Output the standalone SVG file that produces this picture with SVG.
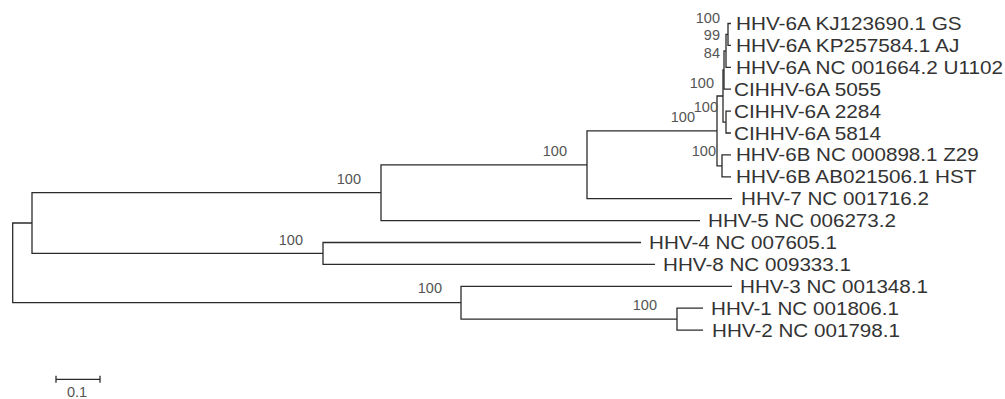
<svg xmlns="http://www.w3.org/2000/svg" width="1005" height="399" viewBox="0 0 1005 399">
<style>
.br{fill:none;stroke:#2b2b2b;stroke-width:1.3}
.tip{font-family:"Liberation Sans",Arial,sans-serif;font-size:18.5px;fill:#333}
.bs{font-family:"Liberation Sans",Arial,sans-serif;font-size:14.5px;fill:#555;text-anchor:end}
</style>
<rect width="1005" height="399" fill="#fff"/>
<g id="connectors">
<path class="br" d="M32,223 H12.7 V302.7 H461"/>
<path class="br" d="M381,192.6 H32 V253.45 H323"/>
<path class="br" d="M587,164.8 H381 V220.6 H700"/>
<path class="br" d="M717,130.9 H587 V198.7 H732"/>
<path class="br" d="M723,96 H717 V165.85 H722"/>
<path class="br" d="M731,154.9 H722 V176.8 H731"/>
<path class="br" d="M724,70 H723 V122.05 H726"/>
<path class="br" d="M726,50.9 H724 V89.2 H731"/>
<path class="br" d="M728,34.45 H726 V67.3 H731"/>
<path class="br" d="M731,23.5 H728 V45.4 H731"/>
<path class="br" d="M731,111.1 H726 V133 H731"/>
<path class="br" d="M641,242.5 H323 V264.4 H655"/>
<path class="br" d="M732,286.3 H461 V319.15 H677"/>
<path class="br" d="M703,308.2 H677 V330.1 H703"/>
</g>
<g id="tips">
<g id="t-kj"><text class="tip" x="736" y="30" textLength="225.6" lengthAdjust="spacingAndGlyphs">HHV-6A KJ123690.1 GS</text></g>
<g id="t-kp"><text class="tip" x="736" y="51.9" textLength="223.3" lengthAdjust="spacingAndGlyphs">HHV-6A KP257584.1 AJ</text></g>
<g id="t-u1102"><text class="tip" x="736" y="73.8" textLength="267" lengthAdjust="spacingAndGlyphs">HHV-6A NC 001664.2 U1102</text></g>
<g id="t-5055"><text class="tip" x="734" y="95.7" textLength="147" lengthAdjust="spacingAndGlyphs">CIHHV-6A 5055</text></g>
<g id="t-2284"><text class="tip" x="734" y="117.6" textLength="147" lengthAdjust="spacingAndGlyphs">CIHHV-6A 2284</text></g>
<g id="t-5814"><text class="tip" x="734" y="139.5" textLength="147" lengthAdjust="spacingAndGlyphs">CIHHV-6A 5814</text></g>
<g id="t-z29"><text class="tip" x="736" y="161.4" textLength="242.7" lengthAdjust="spacingAndGlyphs">HHV-6B NC 000898.1 Z29</text></g>
<g id="t-hst"><text class="tip" x="736" y="183.3" textLength="240.4" lengthAdjust="spacingAndGlyphs">HHV-6B AB021506.1 HST</text></g>
<g id="t-hhv7"><text class="tip" x="741" y="205.2" textLength="188" lengthAdjust="spacingAndGlyphs">HHV-7 NC 001716.2</text></g>
<g id="t-hhv5"><text class="tip" x="708" y="227.1" textLength="188" lengthAdjust="spacingAndGlyphs">HHV-5 NC 006273.2</text></g>
<g id="t-hhv4"><text class="tip" x="649" y="249" textLength="188" lengthAdjust="spacingAndGlyphs">HHV-4 NC 007605.1</text></g>
<g id="t-hhv8"><text class="tip" x="663" y="270.9" textLength="188" lengthAdjust="spacingAndGlyphs">HHV-8 NC 009333.1</text></g>
<g id="t-hhv3"><text class="tip" x="740" y="292.8" textLength="188" lengthAdjust="spacingAndGlyphs">HHV-3 NC 001348.1</text></g>
<g id="t-hhv1"><text class="tip" x="711" y="314.7" textLength="188" lengthAdjust="spacingAndGlyphs">HHV-1 NC 001806.1</text></g>
<g id="t-hhv2"><text class="tip" x="712" y="336.6" textLength="188" lengthAdjust="spacingAndGlyphs">HHV-2 NC 001798.1</text></g>
</g>
<g id="bootstrap">
<text class="bs" x="720" y="23">100</text>
<text class="bs" x="720" y="40">99</text>
<text class="bs" x="720" y="58">84</text>
<text class="bs" x="714" y="88">100</text>
<text class="bs" x="718" y="112">100</text>
<text class="bs" x="695" y="122">100</text>
<text class="bs" x="716" y="156">100</text>
<text class="bs" x="567" y="156">100</text>
<text class="bs" x="361" y="184">100</text>
<text class="bs" x="303" y="245">100</text>
<text class="bs" x="442" y="293">100</text>
<text class="bs" x="657" y="310">100</text>
</g>
<g id="scale">
<path class="br" d="M56,375.8 V382.8 M56,379.3 H100 M100,375.8 V382.8"/>
<text class="bs" x="77" y="396.5" style="text-anchor:middle">0.1</text>
</g>
</svg>
